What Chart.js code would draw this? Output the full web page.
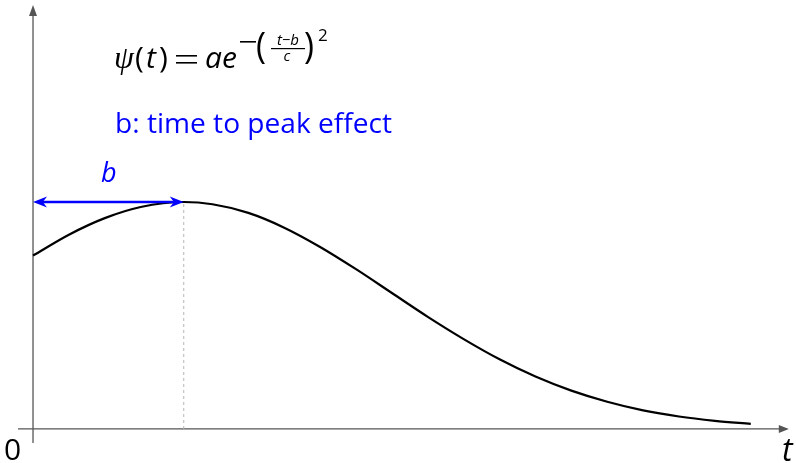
<!DOCTYPE html>
<html>
<head>
<meta charset="utf-8">
<script src="https://cdn.jsdelivr.net/npm/chart.js@4.4.1/dist/chart.umd.min.js"></script>
<style>
  html, body { margin: 0; padding: 0; background: #fff; }
  #wrap { width: 796px; height: 463px; }
</style>
</head>
<body>
<div id="wrap"><canvas id="chart" width="796" height="463"></canvas></div>
<script>
// values (t in axis units, psi relative to peak)
const tValues   = [0, 0.5, 1, 1.5, 2.1, 2.5, 3, 3.5, 4, 4.5, 5, 5.5, 6, 6.5, 7, 7.5, 8, 8.5, 9, 9.5, 10];
const psiValues = [0.764, 0.856, 0.929, 0.978, 1.0, 0.990, 0.952, 0.887, 0.802, 0.704, 0.599, 0.494, 0.396, 0.307, 0.231, 0.169, 0.120, 0.082, 0.055, 0.036, 0.022];
const peakT = 2.1;
const peakPsi = 1.0;

const SANS = '"Open Sans", "DejaVu Sans", sans-serif';
const BLUE = '#0000ff';
const AXIS = '#555555';

function arrowHead(ctx, x, y, dir, len, half) {
    // filled triangle pointing in direction dir (radians)
    ctx.save();
    ctx.translate(x, y);
    ctx.rotate(dir);
    ctx.beginPath();
    ctx.moveTo(0, 0);
    ctx.lineTo(-len, -half);
    ctx.lineTo(-len, half);
    ctx.closePath();
    ctx.fill();
    ctx.restore();
}

function stealth(ctx, x, y, dir, len, half) {
    ctx.save();
    ctx.translate(x, y);
    ctx.rotate(dir);
    ctx.beginPath();
    ctx.moveTo(0, 0);
    ctx.lineTo(-len, -half);
    ctx.lineTo(-len * 0.7, 0);
    ctx.lineTo(-len, half);
    ctx.closePath();
    ctx.fill();
    ctx.restore();
}

function fitFont(ctx, text, style, width) {
    let size = 40;
    ctx.font = style + ' ' + size + 'px ' + SANS;
    size = size * width / ctx.measureText(text).width;
    ctx.font = style + ' ' + size.toFixed(2) + 'px ' + SANS;
}

const decorations = {
    id: 'decorations',
    beforeDatasetsDraw(chart) {
        const { ctx, scales: { x, y } } = chart;
        const x0 = x.getPixelForValue(0);
        const y0 = y.getPixelForValue(0);
        ctx.save();
        ctx.strokeStyle = AXIS;
        ctx.fillStyle = AXIS;
        ctx.lineWidth = 1.3;
        // t axis
        ctx.beginPath();
        ctx.moveTo(x0 - 15, y0);
        ctx.lineTo(x.getPixelForValue(10.5), y0);
        ctx.stroke();
        arrowHead(ctx, x.getPixelForValue(10.53), y0, 0, 10, 4);
        // psi axis
        ctx.beginPath();
        ctx.moveTo(x0, y0 + 14);
        ctx.lineTo(x0, y.getPixelForValue(1.85));
        ctx.stroke();
        arrowHead(ctx, x0, y.getPixelForValue(1.868), -Math.PI / 2, 11, 4);
        ctx.restore();
    },
    afterDatasetsDraw(chart) {
        const { ctx, scales: { x, y } } = chart;
        const x0 = x.getPixelForValue(0);
        const xb = x.getPixelForValue(peakT);
        const yb = y.getPixelForValue(peakPsi);
        ctx.save();

        // b double arrow
        ctx.strokeStyle = BLUE;
        ctx.fillStyle = BLUE;
        ctx.lineWidth = 2.4;
        ctx.beginPath();
        ctx.moveTo(x0 + 6, yb);
        ctx.lineTo(xb - 6, yb);
        ctx.stroke();
        stealth(ctx, x0, yb, Math.PI, 14, 5.5);
        stealth(ctx, xb, yb, 0, 14, 5.5);

        ctx.textBaseline = 'alphabetic';
        ctx.textAlign = 'left';
        ctx.font = 'italic 27px ' + SANS;
        ctx.fillText('b', 101, 182);

        // caption
        fitFont(ctx, 'b: time to peak effect', '', 277);
        ctx.fillText('b: time to peak effect', 115, 133);

        // formula
        ctx.fillStyle = '#000';
        ctx.font = 'italic 32px "Liberation Serif", serif';
        ctx.fillText('\u03c8', 114, 68);
        ctx.font = '30px ' + SANS;
        ctx.fillText('(', 135, 68);
        ctx.fillText(')', 159, 68);
        ctx.fillRect(176, 55, 21, 1.6);
        ctx.fillRect(176, 62, 21, 1.6);
        ctx.font = 'italic 30px ' + SANS;
        ctx.fillText('t', 146, 68);
        ctx.fillText('ae', 205, 68);
        // exponent
        ctx.fillRect(240, 41, 16, 1.6);
        ctx.font = '34px ' + SANS;
        ctx.save();
        ctx.scale(1, 1.1);
        ctx.fillText('(', 256, 53);
        ctx.fillText(')', 304, 53);
        ctx.restore();
        ctx.font = 'italic 15px ' + SANS;
        ctx.textAlign = 'center';
        ctx.fillText('t\u2212b', 288, 45);
        ctx.fillText('c', 287, 61);
        ctx.fillRect(271, 48, 34, 1.2);
        ctx.textAlign = 'left';
        ctx.font = '17px ' + SANS;
        ctx.fillText('2', 318, 41);

        // axis labels
        ctx.font = '30px ' + SANS;
        ctx.fillText('0', 4, 460);
        ctx.font = 'italic 32px ' + SANS;
        ctx.fillText('t', 782, 461);
        ctx.restore();
    }
};

new Chart(document.getElementById('chart'), {
    type: 'line',
    data: {
        datasets: [
            {
                data: tValues.map((t, i) => ({ x: t, y: psiValues[i] })),
                borderColor: '#000',
                borderWidth: 2.2,
                pointRadius: 0,
                cubicInterpolationMode: 'monotone',
                fill: false
            },
            {
                data: [{ x: peakT, y: 0 }, { x: peakT, y: peakPsi }],
                borderColor: '#b5b5b5',
                borderWidth: 1,
                borderDash: [3, 3],
                pointRadius: 0
            }
        ]
    },
    options: {
        responsive: false,
        animation: false,
        layout: { padding: 0 },
        plugins: { legend: { display: false }, tooltip: { enabled: false } },
        scales: {
            x: { type: 'linear', display: false, min: -0.46, max: 10.63 },
            y: { type: 'linear', display: false, min: -0.15, max: 1.89 }
        }
    },
    plugins: [decorations]
});
</script>
</body>
</html>
